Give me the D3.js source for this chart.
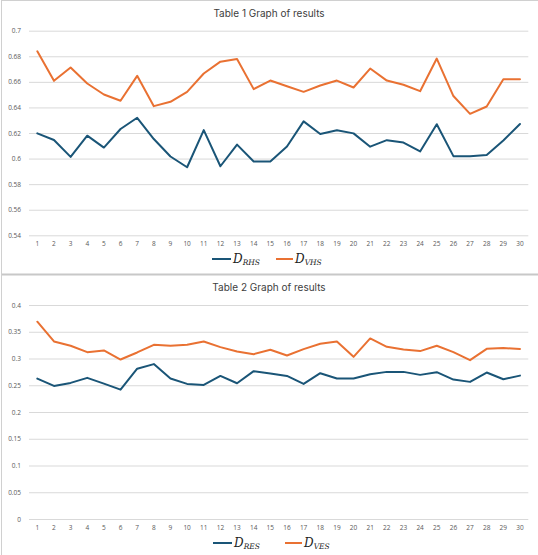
<!DOCTYPE html>
<html>
<head>
<meta charset="utf-8">
<script src="https://cdn.jsdelivr.net/npm/d3@7"></script>
<style>
  html, body { margin: 0; padding: 0; background: #fff; }
  svg { display: block; }
  .tick text { font-family: "Open Sans", "Noto Sans", sans-serif; fill: #595959; }
</style>
</head>
<body>
<svg id="chart" width="538" height="555"></svg>
<script>
const categories = d3.range(1, 31).map(String);

const table1Title = "Table 1 Graph of results";
const table2Title = "Table 2 Graph of results";

const dRHS = [0.6197, 0.6145, 0.6013, 0.6179, 0.6086, 0.6231, 0.6319, 0.6153, 0.6016, 0.5932,
              0.6223, 0.5940, 0.6109, 0.5977, 0.5977, 0.6094, 0.6291, 0.6192, 0.6221, 0.6197,
              0.6093, 0.6144, 0.6125, 0.6056, 0.6269, 0.6019, 0.6019, 0.6027, 0.6141, 0.6270];
const dVHS = [0.6839, 0.6608, 0.6712, 0.6587, 0.6501, 0.6452, 0.6647, 0.6410, 0.6444, 0.6522,
              0.6665, 0.6758, 0.6779, 0.6543, 0.6610, 0.6566, 0.6522, 0.6571, 0.6610, 0.6556,
              0.6704, 0.6610, 0.6577, 0.6527, 0.6782, 0.6489, 0.6350, 0.6407, 0.6621, 0.6621];

const dRES = [0.2625, 0.2488, 0.2544, 0.2638, 0.2531, 0.2418, 0.2810, 0.2895, 0.2625, 0.2525,
              0.2506, 0.2675, 0.2538, 0.2763, 0.2719, 0.2675, 0.2525, 0.2725, 0.2625, 0.2625,
              0.2706, 0.2750, 0.2750, 0.2694, 0.2744, 0.2606, 0.2563, 0.2738, 0.2613, 0.2680];
const dVES = [0.3688, 0.3319, 0.3238, 0.3119, 0.3150, 0.2981, 0.3113, 0.3256, 0.3238, 0.3256,
              0.3319, 0.3213, 0.3131, 0.3081, 0.3163, 0.3056, 0.3175, 0.3275, 0.3319, 0.3031,
              0.3375, 0.3219, 0.3169, 0.3138, 0.3238, 0.3119, 0.2969, 0.3181, 0.3194, 0.3179];

const yTicks1 = [0.54, 0.56, 0.58, 0.60, 0.62, 0.64, 0.66, 0.68, 0.70];
const yTickLabels1 = ["0.54", "0.56", "0.58", "0.6", "0.62", "0.64", "0.66", "0.68", "0.7"];
const yTicks2 = [0, 0.05, 0.10, 0.15, 0.20, 0.25, 0.30, 0.35, 0.40];
const yTickLabels2 = ["0", "0.05", "0.1", "0.15", "0.2", "0.25", "0.3", "0.35", "0.4"];

const legend1 = [{ main: "D", sub: "RHS" }, { main: "D", sub: "VHS" }];
const legend2 = [{ main: "D", sub: "RES" }, { main: "D", sub: "VES" }];

const BLUE = "#1a5577";
const ORANGE = "#e97132";
const GRID = "#d9d9d9";

const svg = d3.select("#chart");

// frame
svg.append("rect").attr("x", 1.5).attr("y", 0.5).attr("width", 540).attr("height", 560)
  .attr("fill", "none").attr("stroke", "#d0d0d0");
svg.append("line").attr("x1", 2).attr("x2", 538).attr("y1", 274.5).attr("y2", 274.5)
  .attr("stroke", "#c8c8c8").attr("stroke-width", 2);

function drawChart(cfg) {
  const g = svg.append("g");
  const x = d3.scaleBand().domain(categories).range([29, 528.3]);
  const y = d3.scaleLinear().domain(cfg.domain).range([cfg.yBottom, cfg.yTop]);

  // title
  g.append("text").attr("x", 269).attr("y", cfg.titleY)
    .attr("text-anchor", "middle").attr("dominant-baseline", "middle")
    .attr("font-family", "Inter, 'Open Sans', sans-serif").attr("font-size", 10)
    .attr("fill", "#404040").text(cfg.title);

  // gridlines + y labels
  const yAxis = d3.axisLeft(y).tickValues(cfg.ticks)
    .tickFormat((d, i) => cfg.tickLabels[i])
    .tickSize(-(528.3 - 29)).tickPadding(8);
  const ya = g.append("g").attr("transform", "translate(29,0)").call(yAxis);
  ya.select(".domain").remove();
  ya.selectAll(".tick line").attr("stroke", GRID).attr("stroke-width", 1);
  ya.selectAll(".tick text").attr("font-size", 6.5).attr("x", -8);

  // x labels
  const xAxis = d3.axisBottom(x).tickSize(0).tickPadding(6);
  const xa = g.append("g").attr("transform", `translate(0,${cfg.yBottom})`).call(xAxis);
  xa.select(".domain").remove();
  xa.selectAll(".tick text").attr("font-size", 6.5);

  const line = d3.line()
    .x((d, i) => x(categories[i]) + x.bandwidth() / 2)
    .y(d => y(d));

  cfg.series.forEach(s => {
    g.append("path").datum(s.values).attr("d", line)
      .attr("fill", "none").attr("stroke", s.color).attr("stroke-width", 2)
      .attr("stroke-linejoin", "round").attr("stroke-linecap", "round");
  });

  // legend
  cfg.series.forEach((s, i) => {
    const lx = cfg.legendX[i];
    g.append("line").attr("x1", lx).attr("x2", lx + cfg.legendLen[i])
      .attr("y1", cfg.legendY).attr("y2", cfg.legendY)
      .attr("stroke", s.color).attr("stroke-width", 2);
    const t = g.append("text").attr("x", lx + cfg.legendLen[i] + 2).attr("y", cfg.legendY + 3.5)
      .attr("font-family", "'DejaVu Serif', 'Liberation Serif', serif")
      .attr("font-style", "italic").attr("fill", "#222");
    t.append("tspan").attr("font-size", 12).text(s.legend.main);
    t.append("tspan").attr("font-size", 7.5).attr("dy", 2).text(s.legend.sub);
  });
}

drawChart({
  title: table1Title, titleY: 14,
  domain: [0.54, 0.70], yTop: 30.7, yBottom: 235.3,
  ticks: yTicks1, tickLabels: yTickLabels1,
  series: [
    { values: dRHS, color: BLUE, legend: legend1[0] },
    { values: dVHS, color: ORANGE, legend: legend1[1] }
  ],
  legendX: [212, 276], legendLen: [19, 17], legendY: 259
});

drawChart({
  title: table2Title, titleY: 288.5,
  domain: [0, 0.40], yTop: 305, yBottom: 519,
  ticks: yTicks2, tickLabels: yTickLabels2,
  series: [
    { values: dRES, color: BLUE, legend: legend2[0] },
    { values: dVES, color: ORANGE, legend: legend2[1] }
  ],
  legendX: [213, 285], legendLen: [19, 17], legendY: 543
});
</script>
</body>
</html>
